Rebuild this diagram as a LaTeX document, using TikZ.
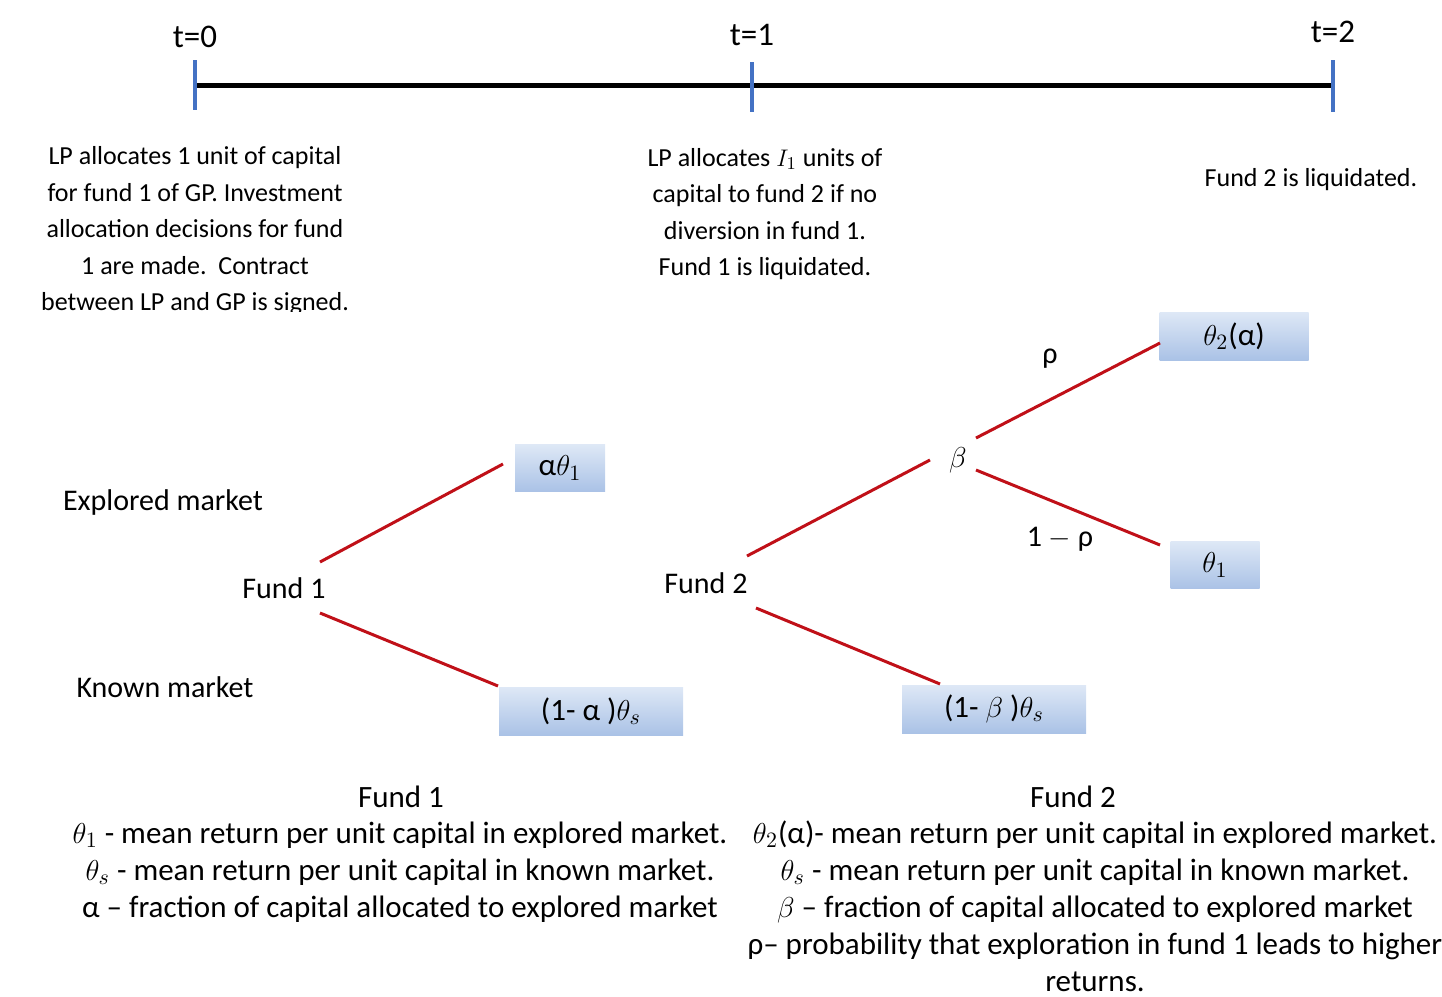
\documentclass[tikz,border=0pt]{standalone}
\usepackage{fontspec}
\setmainfont{Carlito}
\definecolor{boxtop}{RGB}{222,232,246}
\definecolor{boxbot}{RGB}{170,194,230}
\definecolor{branchred}{RGB}{192,16,24}
\definecolor{tickblue}{RGB}{68,114,196}
\begin{document}
\begin{tikzpicture}[x=0.5pt,y=-0.5pt,
 tl/.style={font=\fontsize{16.5}{20}\selectfont, inner sep=0},
 para/.style={font=\fontsize{13}{18.25}\selectfont, align=center, inner sep=0},
 lbl/.style={font=\fontsize{15}{18}\selectfont, inner sep=0},
 payoff/.style={font=\fontsize{15.5}{18}\selectfont, top color=boxtop, bottom color=boxbot, inner sep=0},
 branch/.style={draw=branchred, line width=1.5pt},
 tickmark/.style={draw=tickblue, line width=2pt},
 note/.style={font=\fontsize{15.5}{18.5}\selectfont, align=center, inner sep=0}]
\useasboundingbox (0,0) rectangle (1442,997);
% timeline
\coordinate (a0) at (195,85);
\coordinate (a1) at (752,85);
\coordinate (a2) at (1333,85);
\draw[line width=2.5pt] (a0) -- (a2);
\coordinate (t0a) at (195,60); \coordinate (t0b) at (195,110);
\coordinate (t1a) at (752,62); \coordinate (t1b) at (752,112);
\coordinate (t2a) at (1333,60); \coordinate (t2b) at (1333,112);
\draw[tickmark] (t0a) -- (t0b);
\draw[tickmark] (t1a) -- (t1b);
\draw[tickmark] (t2a) -- (t2b);
\node[tl] (l0) at (195,37) {t=0};
\node[tl] (l1) at (752,35) {t=1};
\node[tl] (l2) at (1333,32) {t=2};
% paragraphs
\begin{scope}
\clip (0,0) rectangle (1442,311);
\node[para] (p0) at (195,231) {LP allocates 1 unit of capital\\for fund 1 of GP. Investment\\allocation decisions for fund\\1 are made.\ \ Contract\\between LP and GP is signed.};
\end{scope}
\node[para] (p1) at (765,214) {LP allocates $I_1$ units of\\capital to fund 2 if no\\diversion in fund 1.\\Fund 1 is liquidated.};
\node[para] (p2) at (1311,180) {Fund 2 is liquidated.};
% fund 1 tree
\node[lbl] (explored) at (163,502) {Explored market};
\node[lbl] (known) at (165,687) {Known market};
\node[lbl] (f1) at (284,588) {Fund 1};
\node[payoff, minimum width=45pt, minimum height=23.5pt] (b1) at (560,468) {α$\theta_1$};
\node[payoff, minimum width=92pt, minimum height=24pt] (b2) at (591,711) {(1- α )$\theta_s$};
\coordinate (f1u) at (320,562); \coordinate (b1e) at (503,464);
\coordinate (f1d) at (320,613); \coordinate (b2e) at (498,686);
\draw[branch] (f1u) -- (b1e);
\draw[branch] (f1d) -- (b2e);
% fund 2 tree
\node[lbl] (f2) at (706,583) {Fund 2};
\node[lbl] (beta) at (958,460) {$\beta$};
\node[lbl] (rho) at (1050,359) {ρ};
\node[lbl] (nrho) at (1060,539) {1 $-$ ρ};
\node[payoff, minimum width=74.5pt, minimum height=24pt] (b3) at (1234,336) {$\theta_2$(α)};
\node[payoff, minimum width=44.5pt, minimum height=23.5pt] (b4) at (1215,565) {$\theta_1$};
\node[payoff, minimum width=92pt, minimum height=24pt] (b5) at (994,709) {(1- $\beta$ )$\theta_s$};
\coordinate (f2u) at (747,556); \coordinate (betal) at (930,460);
\coordinate (f2d) at (756,608); \coordinate (b5e) at (940,684);
\coordinate (betau) at (976,438); \coordinate (b3e) at (1160,343);
\coordinate (betad) at (976,470); \coordinate (b4e) at (1160,545);
\draw[branch] (f2u) -- (betal);
\draw[branch] (f2d) -- (b5e);
\draw[branch] (betau) -- (b3e);
\draw[branch] (betad) -- (b4e);
% legends
\node[note] (h1) at (401,797) {Fund 1};
\node[note] (n1) at (400,872) {$\theta_1$ - mean return per unit capital in explored market.\\$\theta_s$ - mean return per unit capital in known market.\\α – fraction of capital allocated to explored market};
\node[note] (h2) at (1073,797) {Fund 2};
\node[note] (n2) at (1095,906) {$\theta_2$(α)- mean return per unit capital in explored market.\\$\theta_s$ - mean return per unit capital in known market.\\$\beta$ – fraction of capital allocated to explored market\\ρ– probability that exploration in fund 1 leads to higher\\returns.};
\end{tikzpicture}
\end{document}
